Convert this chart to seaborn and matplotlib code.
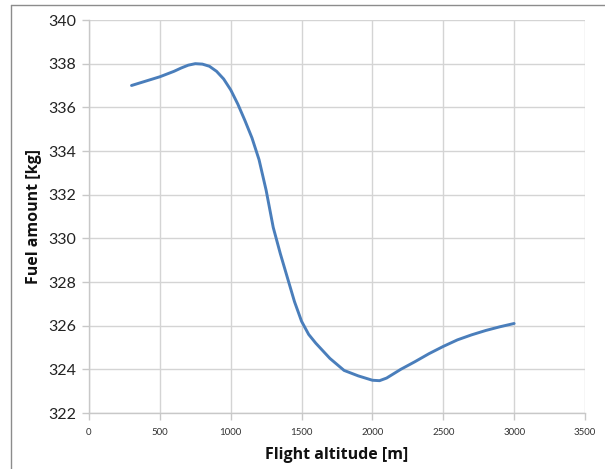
import matplotlib
matplotlib.use("Agg")
import matplotlib.pyplot as plt
import seaborn as sns
import pandas as pd
from matplotlib.lines import Line2D

altitude = [300, 400, 500, 600, 650, 700, 750, 800, 850, 900, 950, 1000, 1050, 1100, 1150,
            1200, 1250, 1300, 1350, 1400, 1450, 1500, 1550, 1600, 1700, 1800, 1900,
            2000, 2050, 2100, 2200, 2300, 2400, 2500, 2600, 2700, 2800, 2900, 3000]
fuel = [337.0, 337.2, 337.4, 337.65, 337.8, 337.93, 338.0, 337.98, 337.88, 337.65, 337.3, 336.8,
        336.15, 335.4, 334.6, 333.6, 332.2, 330.5, 329.3, 328.2, 327.1, 326.2, 325.6, 325.2,
        324.5, 323.95, 323.7, 323.5, 323.48, 323.6, 324.0, 324.35, 324.72, 325.05, 325.35,
        325.58, 325.78, 325.95, 326.1]
x_ticks = [0, 500, 1000, 1500, 2000, 2500, 3000, 3500]
y_ticks = [322, 324, 326, 328, 330, 332, 334, 336, 338, 340]

df = pd.DataFrame({"Flight altitude [m]": altitude, "Fuel amount [kg]": fuel})

sns.set_theme(style="white")
plt.rcParams['font.family'] = ['Lato', 'DejaVu Sans']

fig = plt.figure(figsize=(6.05, 4.69), dpi=100)
ax = fig.add_axes([89/605, 1 - 413/469, (585 - 89)/605, (413 - 20)/469])

sns.lineplot(data=df, x="Flight altitude [m]", y="Fuel amount [kg]", ax=ax,
             color="#4a7ebb", linewidth=2.1, sort=False)
ax.lines[0].set_solid_joinstyle("round")
ax.lines[0].set_solid_capstyle("round")

ax.set_xlim(0, 3500)
ax.set_ylim(322, 340)
ax.set_xticks(x_ticks)
ax.set_yticks(y_ticks)
ax.set_xticklabels([str(t) for t in x_ticks], fontsize=7, color="#333333")
ax.set_yticklabels([str(t) for t in y_ticks], fontsize=11.5, color="#222222")
ax.grid(True, color="#d4d4d4", linewidth=1.0)
ax.set_axisbelow(True)
for s in ["top", "right"]:
    ax.spines[s].set_visible(False)
for s in ["left", "bottom"]:
    ax.spines[s].set_color("#c8c8c8")
    ax.spines[s].set_linewidth(1.0)
ax.tick_params(axis="both", which="both", direction="out", length=5, width=1.0,
               color="#c8c8c8", left=True, bottom=True)
ax.tick_params(axis="x", pad=6)
ax.tick_params(axis="y", pad=4)

ax.set_xlabel("Flight altitude [m]", fontsize=11.5, fontweight="bold", color="#111111",
              labelpad=7, family=["Open Sans", "DejaVu Sans"])
ax.set_ylabel("Fuel amount [kg]", fontsize=11.5, fontweight="bold", color="#111111",
              labelpad=5, family=["Open Sans", "DejaVu Sans"])

# outer frame (top and left edges visible)
fig.add_artist(Line2D([11/605, 1.0], [1 - 5/469, 1 - 5/469], transform=fig.transFigure,
                      color="#8c8c8c", linewidth=1.0))
fig.add_artist(Line2D([11/605, 11/605], [0, 1 - 5/469], transform=fig.transFigure,
                      color="#8c8c8c", linewidth=1.0))

fig.savefig("out.png", dpi=100)
